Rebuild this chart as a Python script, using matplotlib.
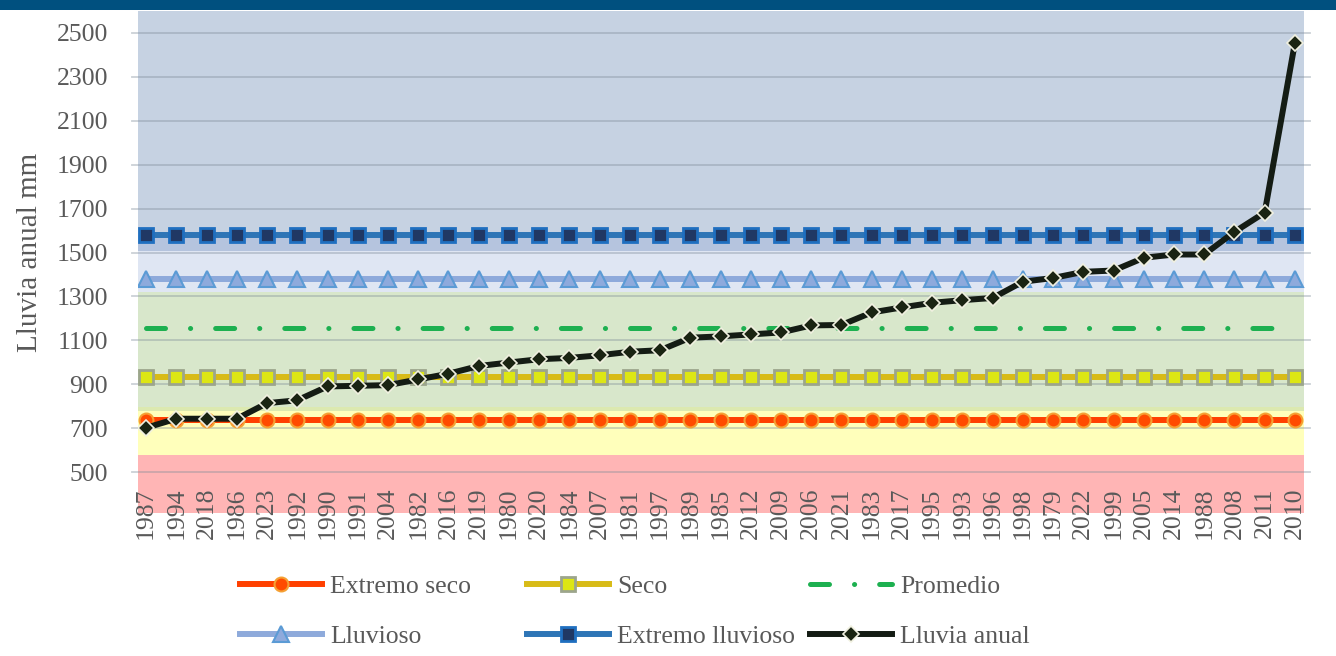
import matplotlib.pyplot as plt
from matplotlib.patches import Rectangle

plt.rcParams["font.family"] = ["Liberation Serif", "DejaVu Serif"]

# Data
years = ["1987", "1994", "2018", "1986", "2023", "1992", "1990", "1991", "2004",
         "1982", "2016", "2019", "1980", "2020", "1984", "2007", "1981", "1997",
         "1989", "1985", "2012", "2009", "2006", "2021", "1983", "2017", "1995",
         "1993", "1996", "1998", "1979", "2022", "1999", "2005", "2014", "1988",
         "2008", "2011", "2010"]
lluvia_anual = [702, 743, 743, 743, 814, 827, 890, 893, 896,
                922, 948, 983, 999, 1014, 1020, 1032, 1048, 1055,
                1112, 1118, 1127, 1136, 1168, 1170, 1227, 1250, 1271,
                1283, 1293, 1367, 1384, 1412, 1418, 1476, 1491, 1491,
                1594, 1682, 2456]
extremo_seco = 736
seco = 935
promedio = 1156
lluvioso = 1380
extremo_lluvioso = 1582

# background classification bands
band_edges = [315, 580, 777, 798, 1320, 1505, 1582, 2600]
band_colors = ["#ffb5b5", "#ffffbb", "#dce9b0", "#d8e7cb", "#dfe6f3", "#b5c4de", "#c6d2e2"]
y_ticks = list(range(500, 2501, 200))

W, H = 1336, 656
fig = plt.figure(figsize=(W / 100, H / 100), dpi=100)
fig.add_artist(Rectangle((0, 1 - 10 / H), 1, 10 / H, transform=fig.transFigure,
                         color="#00507f", lw=0))

ax = fig.add_axes([138 / W, 1 - 512.7 / H, (1304 - 138) / W, (512.7 - 11) / H])
n = len(years)
x = list(range(n))

for lo, hi, c in zip(band_edges[:-1], band_edges[1:], band_colors):
    ax.axhspan(lo, hi, color=c, lw=0, zorder=0)
for t in y_ticks:
    ax.axhline(t, xmin=-0.005, xmax=1.005, color="#7f8c99", alpha=0.4, lw=1.3,
               zorder=1, clip_on=False)

lw = 4.3
l1, = ax.plot(x, [extremo_seco] * n, color="#ff4000", lw=lw, marker="o", ms=10,
              mfc="#ff4b00", mec="#f5a033", mew=1.5, zorder=3, label="Extremo seco")
l2, = ax.plot(x, [seco] * n, color="#d8bb17", lw=lw, marker="s", ms=10.5,
              mfc="#dde614", mec="#9ca58c", mew=2, zorder=3, label="Seco")
l3, = ax.plot(x, [promedio] * n, color="#1db050", lw=3.6, linestyle=(0, (3.8, 5.0, 0.03, 5.0)),
              dash_capstyle="round", zorder=3, label="Promedio")
l4, = ax.plot(x, [lluvioso] * n, color="#8eaadb", lw=lw, marker="^", ms=12,
              mfc="#8eaadc", mec="#5b9bd5", mew=1.5, zorder=3, label="Lluvioso")
l5, = ax.plot(x, [extremo_lluvioso] * n, color="#2e75b6", lw=lw, marker="s", ms=10.5,
              mfc="#203864", mec="#1f6fc0", mew=2, zorder=3, label="Extremo lluvioso")
l6, = ax.plot(x, lluvia_anual, color="#141c14", lw=lw, marker="D", ms=8,
              mfc="#1a2412", mec="#f0f0e0", mew=1.2, zorder=4, label="Lluvia anual")

ax.set_xlim(-0.27, n - 0.7)
ax.set_ylim(band_edges[0], band_edges[-1])
ax.set_yticks(y_ticks)
ax.set_xticks(x)
ax.set_xticklabels(years, rotation=90)
ax.tick_params(axis="x", length=0, pad=-17.8, labelsize=18.5, labelcolor="#595959")
ax.tick_params(axis="y", length=0, pad=21.6, labelsize=18.5, labelcolor="#595959")
for s in ax.spines.values():
    s.set_visible(False)

fig.text(30 / W, 1 - 252 / H, "Lluvia anual mm", rotation=90, ha="center", va="center",
         fontsize=21, color="#595959")

# legend: three columns, two rows
cols = [(l1, l4), (l2, l5), (l3, l6)]
col_x = [240, 527, 810]
for hs, cx in zip(cols, col_x):
    fig.legend(handles=list(hs), loc="center left", bbox_to_anchor=(cx / W, 1 - 611.5 / H),
               frameon=False, fontsize=18.5, labelcolor="#595959", handlelength=3.2,
               handletextpad=0.3, labelspacing=1.05, borderpad=0, borderaxespad=0)

fig.savefig("out.png", dpi=100)
